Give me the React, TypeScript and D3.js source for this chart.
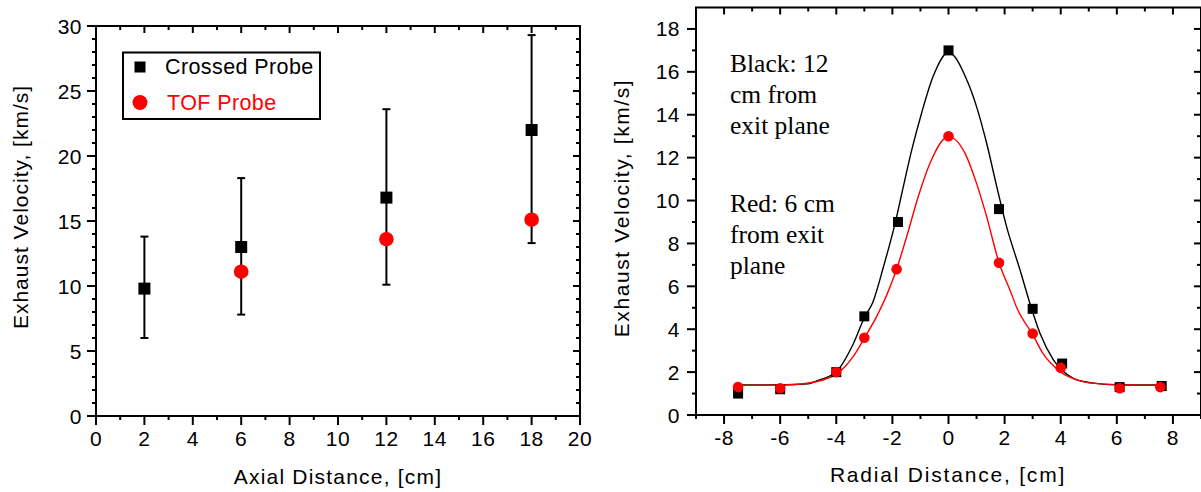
import React from "react";
import * as d3 from "d3";

// ---- Axial profile (left panel) ----
const axialDist = [2, 6, 12, 18];
const crossedVel = [9.8, 13.0, 16.8, 22.0];
const crossedErrLow = [6.0, 7.8, 10.1, 13.3];
const crossedErrHigh = [13.8, 18.3, 23.6, 29.3];
const tofDist = [6, 12, 18];
const tofVel = [11.1, 13.6, 15.1];
const axialXTicks = [0, 2, 4, 6, 8, 10, 12, 14, 16, 18, 20];
const axialYTicks = [0, 5, 10, 15, 20, 25, 30];
const legendLabels = ["Crossed Probe", "TOF Probe"];

// ---- Radial profile (right panel) ----
const radialBlackX = [-7.5, -6, -4, -3, -1.8, 0, 1.8, 3, 4.05, 6.1, 7.6];
const radialBlackV = [1.0, 1.2, 2.0, 4.6, 9.0, 17.0, 9.6, 4.95, 2.4, 1.3, 1.35];
const radialRedX = [-7.5, -6, -4, -3, -1.85, 0, 1.8, 3, 4.0, 6.1, 7.55];
const radialRedV = [1.3, 1.25, 2.0, 3.6, 6.8, 13.0, 7.1, 3.8, 2.2, 1.25, 1.3];
// fitted profile lines
const blackFitX = [-7.5, -6, -5, -4.7, -4, -3.4, -2.98, -2.7, -2.32, -1.91, -1.61, -1.31, -0.96, -0.55, 0, 0.65, 1.0, 1.36, 1.72, 2.07, 2.55, 2.9, 3.26, 3.74, 4.45, 5.04, 6.1, 7.5];
const blackFitV = [1.4, 1.4, 1.45, 1.59, 2.02, 3.3, 4.59, 5.25, 6.9, 8.9, 10.65, 12.36, 14.07, 15.78, 16.9, 15.63, 14.38, 12.67, 10.65, 8.78, 6.76, 5.21, 3.81, 2.57, 1.71, 1.51, 1.4, 1.4];
const redFitX = [-7.5, -6, -5.05, -4, -3.4, -3, -2.5, -2.2, -1.85, -1.49, -1.08, -0.66, 0, 0.59, 1.0, 1.36, 1.8, 2.19, 2.45, 3.0, 3.36, 3.98, 4.69, 5.4, 7.5];
const redFitV = [1.38, 1.4, 1.48, 1.91, 2.72, 3.58, 4.75, 5.6, 6.8, 8.32, 10.18, 11.74, 12.98, 12.2, 10.8, 9.25, 7.1, 5.83, 4.95, 3.75, 2.88, 2.02, 1.59, 1.45, 1.38];
const radialXTicks = [-8, -6, -4, -2, 0, 2, 4, 6, 8];
const radialYTicks = [0, 2, 4, 6, 8, 10, 12, 14, 16, 18];
const blackNote = ["Black: 12", "cm from", "exit plane"];
const redNote = ["Red: 6 cm", "from exit", "plane"];

const SANS = "'Liberation Sans', Arial, sans-serif";
const SERIF = "'Liberation Serif', 'Times New Roman', serif";
const RED = "#ff0000";
const MAJ = 9;
const MIN = 4;

type Lin = d3.ScaleLinear<number, number>;

function Frame({ x, y, xMajor, xMinor, yMajor, yMinor, yLabelOffset }: {
  x: Lin; y: Lin; xMajor: number[]; xMinor: number[]; yMajor: number[]; yMinor: number[]; yLabelOffset: number;
}) {
  const [x0, x1] = x.range();
  const [y0, y1] = y.range();
  const tickStyle = { stroke: "#000", strokeWidth: 2 };
  return (
    <g>
      <rect x={x0} y={y1} width={x1 - x0} height={y0 - y1} fill="none" stroke="#000" strokeWidth={2} />
      {xMinor.map((v) => (
        <g key={"xm" + v}>
          <line x1={x(v)} x2={x(v)} y1={y0} y2={y0 + MIN} {...tickStyle} />
          <line x1={x(v)} x2={x(v)} y1={y1} y2={y1 + MIN} {...tickStyle} />
        </g>
      ))}
      {xMajor.map((v) => (
        <g key={"xM" + v}>
          <line x1={x(v)} x2={x(v)} y1={y0} y2={y0 + MAJ} {...tickStyle} />
          <line x1={x(v)} x2={x(v)} y1={y1} y2={y1 + 7} {...tickStyle} />
          <text x={x(v)} y={y0 + 30} textAnchor="middle" fontFamily={SANS} fontSize={21} letterSpacing={0.5} fill="#000">
            {String(v)}
          </text>
        </g>
      ))}
      {yMinor.map((v) => (
        <g key={"ym" + v}>
          <line x1={x0 - MIN} x2={x0} y1={y(v)} y2={y(v)} {...tickStyle} />
          <line x1={x1 - MIN} x2={x1} y1={y(v)} y2={y(v)} {...tickStyle} />
        </g>
      ))}
      {yMajor.map((v) => (
        <g key={"yM" + v}>
          <line x1={x0 - MAJ} x2={x0} y1={y(v)} y2={y(v)} {...tickStyle} />
          <line x1={x1 - 7} x2={x1} y1={y(v)} y2={y(v)} {...tickStyle} />
          <text x={x0 - yLabelOffset} y={y(v) + 7.5} textAnchor="end" fontFamily={SANS} fontSize={21} letterSpacing={0.5} fill="#000">
            {String(v)}
          </text>
        </g>
      ))}
    </g>
  );
}

function AxialPanel() {
  const x = d3.scaleLinear().domain([0, 20]).range([96, 580]);
  const y = d3.scaleLinear().domain([0, 30]).range([416, 26]);
  const xMinor = d3.range(1, 20, 2);
  const yMinor = d3.range(0, 31).filter((v) => v % 5 !== 0);
  const cap = 4;
  const sq = 12;
  return (
    <g>
      <Frame x={x} y={y} xMajor={axialXTicks} xMinor={xMinor} yMajor={axialYTicks} yMinor={yMinor} yLabelOffset={14} />
      {axialDist.map((d, i) => (
        <g key={"err" + d} stroke="#000" strokeWidth={2}>
          <line x1={x(d)} x2={x(d)} y1={y(crossedErrLow[i])} y2={y(crossedErrHigh[i])} />
          <line x1={x(d) - cap} x2={x(d) + cap} y1={y(crossedErrLow[i])} y2={y(crossedErrLow[i])} />
          <line x1={x(d) - cap} x2={x(d) + cap} y1={y(crossedErrHigh[i])} y2={y(crossedErrHigh[i])} />
        </g>
      ))}
      {axialDist.map((d, i) => (
        <rect key={"sq" + d} x={x(d) - sq / 2} y={y(crossedVel[i]) - sq / 2} width={sq} height={sq} fill="#000" />
      ))}
      {tofDist.map((d, i) => (
        <circle key={"tof" + d} cx={x(d)} cy={y(tofVel[i])} r={7.3} fill={RED} />
      ))}
      {/* legend */}
      <rect x={123} y={52.5} width={197} height={66.5} fill="#fff" stroke="#000" strokeWidth={2} />
      <rect x={134.5} y={61.5} width={11} height={11} fill="#000" />
      <text x={165} y={74} fontFamily={SANS} fontSize={21.5} letterSpacing={0.4} fill="#000">{legendLabels[0]}</text>
      <circle cx={140} cy={102.5} r={7.5} fill={RED} />
      <text x={167} y={110} fontFamily={SANS} fontSize={21.5} letterSpacing={0.4} fill={RED}>{legendLabels[1]}</text>
      {/* axis titles */}
      <text x={338} y={484} textAnchor="middle" fontFamily={SANS} fontSize={21} letterSpacing={1.2} fill="#000">
        Axial Distance, [cm]
      </text>
      <text transform="translate(28,207) rotate(-90)" textAnchor="middle" fontFamily={SANS} fontSize={21} letterSpacing={1} fill="#000">
        Exhaust Velocity, [km/s]
      </text>
    </g>
  );
}

function RadialPanel() {
  const x = d3.scaleLinear().domain([-9, 9]).range([696, 1201]);
  const y = d3.scaleLinear().domain([0, 19]).range([415, 7.5]);
  const xMinor = d3.range(-9, 10, 2);
  const yMinor = d3.range(1, 19, 2);
  const line = d3.line<[number, number]>().x((p) => x(p[0])).y((p) => y(p[1])).curve(d3.curveMonotoneX);
  const blackFit = blackFitX.map((v, i) => [v, blackFitV[i]] as [number, number]);
  const redFit = redFitX.map((v, i) => [v, redFitV[i]] as [number, number]);
  const sq = 10;
  return (
    <g>
      <Frame x={x} y={y} xMajor={radialXTicks} xMinor={xMinor} yMajor={radialYTicks} yMinor={yMinor} yLabelOffset={16} />
      <path d={line(blackFit) || ""} fill="none" stroke="#000" strokeWidth={1.4} />
      <path d={line(redFit) || ""} fill="none" stroke={RED} strokeWidth={1.4} />
      {radialBlackX.map((d, i) => (
        <rect key={"b" + i} x={x(d) - sq / 2} y={y(radialBlackV[i]) - sq / 2} width={sq} height={sq} fill="#000" />
      ))}
      {radialRedX.map((d, i) => (
        <circle key={"r" + i} cx={x(d)} cy={y(radialRedV[i])} r={5.3} fill={RED} />
      ))}
      {blackNote.map((t, i) => (
        <text key={"bn" + i} x={730} y={72 + i * 31} fontFamily={SERIF} fontSize={25.5} fill="#000">{t}</text>
      ))}
      {redNote.map((t, i) => (
        <text key={"rn" + i} x={730} y={212 + i * 31} fontFamily={SERIF} fontSize={25.5} fill="#000">{t}</text>
      ))}
      <text x={948} y={482} textAnchor="middle" fontFamily={SANS} fontSize={21} letterSpacing={1.8} fill="#000">
        Radial Distance, [cm]
      </text>
      <text transform="translate(629,208) rotate(-90)" textAnchor="middle" fontFamily={SANS} fontSize={21} letterSpacing={1.6} fill="#000">
        Exhaust Velocity, [km/s]
      </text>
    </g>
  );
}

export default function App() {
  return (
    <svg
      width={1201}
      height={492}
      viewBox="0 0 1201 492"
      style={{ position: "absolute", left: 0, top: 0, background: "#fff" }}
    >
      <rect x={0} y={0} width={1201} height={492} fill="#fff" />
      <AxialPanel />
      <RadialPanel />
    </svg>
  );
}
